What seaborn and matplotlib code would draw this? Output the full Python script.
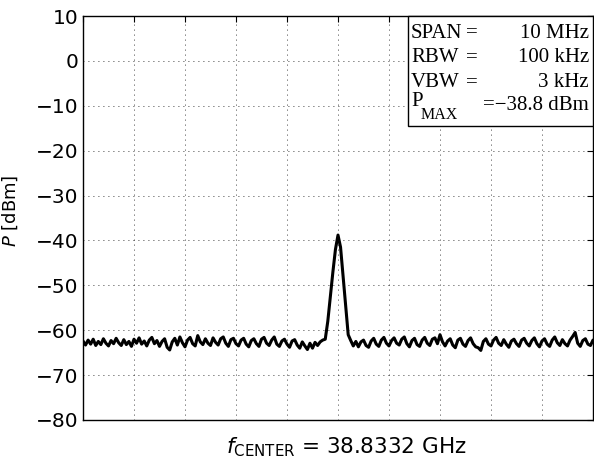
import numpy as np
import pandas as pd
import matplotlib
matplotlib.use("Agg")
import matplotlib.pyplot as plt
import seaborn as sns

# sweep: 201 points over a 10 MHz span around the centre frequency
offset_mhz = np.linspace(-5, 5, 201)

power_dbm = [
    -62.4, -63.3, -62.2, -63.1, -62.0, -63.4, -62.5, -63.2, -61.9, -62.9,
    -63.5, -62.3, -63.0, -61.8, -62.8, -63.4, -62.1, -63.2, -62.5, -63.6,
    -62.0, -62.9, -61.7, -63.1, -62.4, -63.5, -62.2, -61.6, -63.0, -62.3,
    -63.6, -62.5, -61.9, -63.8, -64.4, -62.6, -61.8, -63.3, -61.5, -62.8,
    -63.7, -62.2, -61.6, -63.0, -63.5, -61.2, -62.6, -63.2, -61.9, -62.9,
    -63.4, -61.7, -62.7, -63.3, -61.9, -61.5, -62.9, -63.6, -62.1, -61.8,
    -63.0, -63.5, -62.2, -61.8, -63.1, -63.7, -62.3, -61.9, -63.0, -63.6,
    -62.0, -61.6, -62.9, -63.4, -62.2, -61.5, -63.1, -63.6, -62.4, -62.0,
    -63.1, -63.8, -62.4, -62.1, -63.3, -64.0, -62.6, -63.5, -64.3, -62.9,
    -64.0, -62.7, -63.4, -62.6, -62.2,
    -62.0, -58.0, -52.5, -47.0, -42.0, -38.8, -41.5, -48.0, -54.5, -61.0, -62.3,
    -63.5, -62.5, -63.7, -62.6,
    -62.2, -63.4, -63.8, -62.4, -61.8, -63.1, -63.6, -62.2, -61.6, -62.9,
    -63.5, -62.3, -61.7, -62.9, -63.3, -62.0, -61.5, -63.0, -63.7, -62.3,
    -61.8, -63.2, -63.6, -62.2, -61.6, -62.9, -63.4, -62.0, -61.7, -63.0,
    -61.0, -62.6, -63.5, -62.4, -61.9, -63.3, -63.9, -62.2, -61.8, -63.1,
    -63.6, -62.3, -61.7, -63.0, -63.7, -63.9, -64.5, -62.5, -61.9, -63.1,
    -63.5, -62.2, -61.6, -62.9, -63.4, -62.1, -63.1, -63.8, -62.4, -62.0,
    -63.0, -63.6, -62.2, -61.8, -62.9, -63.5, -62.3, -61.7, -63.0, -63.7,
    -62.4, -61.9, -63.1, -63.6, -62.2, -61.5, -62.8, -63.4, -62.1, -63.0,
    -63.5, -62.2, -61.4, -60.5, -62.9, -63.6, -62.3, -61.9, -63.1, -63.4,
    -62.2,
]

y_ticks = [-80, -70, -60, -50, -40, -30, -20, -10, 0, 10]
x_ticks = [-5, -4, -3, -2, -1, 0, 1, 2, 3, 4, 5]

box_names = ["SPAN", "RBW", "VBW"]
box_values = ["10 MHz", "100 kHz", "3 kHz"]
pmax_value = "=\u221238.8 dBm"

df = pd.DataFrame({"f": offset_mhz, "P": power_dbm})

sns.set_style("white")
plt.rcParams["font.family"] = ["DejaVu Sans"]
plt.rcParams["mathtext.fontset"] = "dejavusans"
plt.rcParams["text.color"] = "black"
plt.rcParams["axes.labelcolor"] = "black"
plt.rcParams["xtick.color"] = "black"
plt.rcParams["ytick.color"] = "black"

W, H = 594, 466
fig = plt.figure(figsize=(W / 100, H / 100), dpi=100)
ax = fig.add_axes([83 / W, 1 - 420 / H, (593 - 83) / W, (420 - 16) / H])

sns.lineplot(data=df, x="f", y="P", color="black", lw=2.2, ax=ax)

ax.set_xlim(-5, 5)
ax.set_ylim(-80, 10)
ax.set_yticks(y_ticks)
ax.set_xticks(x_ticks)
ax.set_xticklabels([])
ax.tick_params(axis="both", direction="in", length=4, width=0.8,
               top=True, right=True, labelsize=14.5, pad=3,
               colors="black")
ax.grid(True, color="black", linestyle=(0, (1, 5)), linewidth=0.6)
for s in ax.spines.values():
    s.set_color("black")
    s.set_linewidth(1.0)

ax.set_ylabel(r"$P$ [dBm]", fontsize=13, color="black")
ax.yaxis.set_label_coords(-0.124, 0.517)
ax.set_xlabel("")
fig.text(346 / W, 1 - 447 / H, r"$f_{\mathrm{CENTER}}$ = 38.8332 GHz",
         ha="center", va="center", fontsize=15.5, color="black")

# settings box, upper right
bx0, by0 = 408, 16
bx1, by1 = 593, 126
fig.patches.append(plt.Rectangle((bx0 / W, 1 - by1 / H), (bx1 - bx0) / W,
                                 (by1 - by0) / H, transform=fig.transFigure,
                                 facecolor="white", edgecolor="black", lw=1.0,
                                 zorder=5))
serif = "Liberation Serif"
rows = [33, 58, 83]
for name, val, yy in zip(box_names, box_values, rows):
    fig.text(411 / W, 1 - yy / H, name, family=serif, fontsize=15,
             ha="left", va="center", zorder=6, color="black")
    fig.text(466 / W, 1 - yy / H, "=", family=serif, fontsize=15,
             ha="left", va="center", zorder=6, color="black")
    fig.text(589 / W, 1 - yy / H, val, family=serif, fontsize=15,
             ha="right", va="center", zorder=6, color="black")
fig.text(411 / W, 1 - 102 / H, "P", family=serif, fontsize=15,
         ha="left", va="center", zorder=6, color="black")
fig.text(421 / W, 1 - 115 / H, "MAX", family=serif, fontsize=11.5,
         ha="left", va="center", zorder=6, color="black")
fig.text(589 / W, 1 - 105 / H, pmax_value, family=serif, fontsize=15,
         ha="right", va="center", zorder=6, color="black")

fig.savefig("out.png", dpi=100)
